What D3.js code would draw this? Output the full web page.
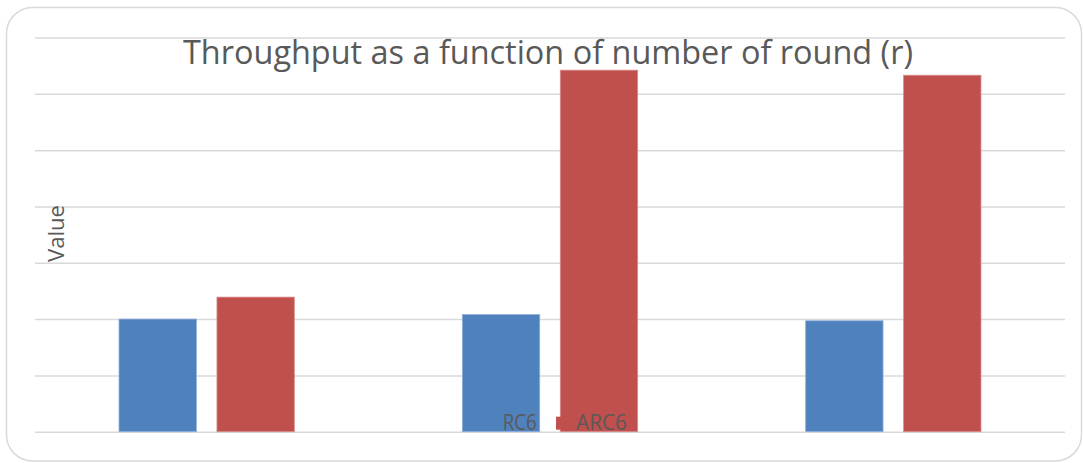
<!DOCTYPE html>
<html>
<head>
<meta charset="utf-8">
<script src="https://cdn.jsdelivr.net/npm/d3@7"></script>
<style>
  html, body { margin: 0; padding: 0; background: #ffffff; }
  svg { display: block; font-family: "Open Sans", "Noto Sans", sans-serif; }
</style>
</head>
<body>
<svg id="chart" width="1083" height="463"></svg>
<script>
// Chart data
const categories = ["r = 1", "r = 2", "r = 3"];
const seriesNames = ["RC6", "ARC6"];
const rc6Values = [2.00, 2.08, 1.97];
const arc6Values = [2.39, 6.42, 6.33];
const yTicks = [0, 1, 2, 3, 4, 5, 6, 7];
const titleText = "Throughput as a function of number of round (r)";
const yAxisTitle = "Value";

const colors = { RC6: "#4F81BD", ARC6: "#C0504D" };
const edgeColors = { RC6: "#8FAEDC", ARC6: "#D98C8A" };

const svg = d3.select("#chart");
const plot = { left: 35, right: 1065, top: 37.5, bottom: 431.7 };

// Outer rounded frame
svg.append("rect")
  .attr("x", 6.5).attr("y", 7.5)
  .attr("width", 1081.5 - 6.5).attr("height", 461 - 7.5)
  .attr("rx", 26).attr("ry", 26)
  .attr("fill", "#ffffff")
  .attr("stroke", "#d9d9d9").attr("stroke-width", 1.5);

// Scales
const x0 = d3.scaleBand()
  .domain(categories)
  .range([plot.left, plot.right])
  .paddingInner(0).paddingOuter(0);

const x1 = d3.scaleBand()
  .domain(seriesNames)
  .range([0, x0.bandwidth()])
  .paddingInner(0.21)
  .paddingOuter(0.858);

const y = d3.scaleLinear()
  .domain([0, 7])
  .range([plot.bottom, plot.top]);

// Horizontal gridlines (no tick labels)
const yAxis = d3.axisLeft(y)
  .tickValues(yTicks)
  .tickSize(-(plot.right - plot.left))
  .tickFormat("");

const gy = svg.append("g")
  .attr("transform", `translate(${plot.left},0)`)
  .call(yAxis);
gy.select(".domain").remove();
gy.selectAll(".tick line")
  .attr("stroke", "#d9d9d9")
  .attr("stroke-width", 1.5);

// Bars
const rows = categories.map((c, i) => ({
  category: c,
  values: [
    { series: "RC6", value: rc6Values[i] },
    { series: "ARC6", value: arc6Values[i] }
  ]
}));

const groups = svg.append("g").selectAll("g")
  .data(rows)
  .join("g")
  .attr("transform", d => `translate(${x0(d.category)},0)`);

groups.selectAll("rect")
  .data(d => d.values)
  .join("rect")
  .attr("x", d => x1(d.series))
  .attr("width", x1.bandwidth())
  .attr("y", d => y(d.value))
  .attr("height", d => y(0) - y(d.value))
  .attr("fill", d => colors[d.series])
  .attr("stroke", d => edgeColors[d.series])
  .attr("stroke-width", 0.8);

// Title
svg.append("text")
  .attr("x", 548)
  .attr("y", 64)
  .attr("text-anchor", "middle")
  .attr("fill", "#595959")
  .attr("font-size", 33)
  .attr("textLength", 730)
  .attr("lengthAdjust", "spacingAndGlyphs")
  .text(titleText);

// Y axis title
svg.append("text")
  .attr("transform", "translate(64,233.5) rotate(-90)")
  .attr("text-anchor", "middle")
  .attr("fill", "#595959")
  .attr("font-size", 21)
  .attr("textLength", 57)
  .attr("lengthAdjust", "spacingAndGlyphs")
  .text(yAxisTitle);

// Legend, drawn over the bars along the baseline
const legendX = [482.7, 556];
const legend = svg.append("g").selectAll("g")
  .data(seriesNames)
  .join("g")
  .attr("transform", (d, i) => `translate(${legendX[i]},0)`);

legend.append("rect")
  .attr("x", 0).attr("y", 416.7)
  .attr("width", 13).attr("height", 13)
  .attr("fill", d => colors[d]);

legend.append("text")
  .attr("x", 20)
  .attr("y", 429.5)
  .attr("fill", "#595959")
  .attr("font-size", 22)
  .attr("textLength", d => d === "RC6" ? 34 : 51)
  .attr("lengthAdjust", "spacingAndGlyphs")
  .text(d => d);
</script>
</body>
</html>
